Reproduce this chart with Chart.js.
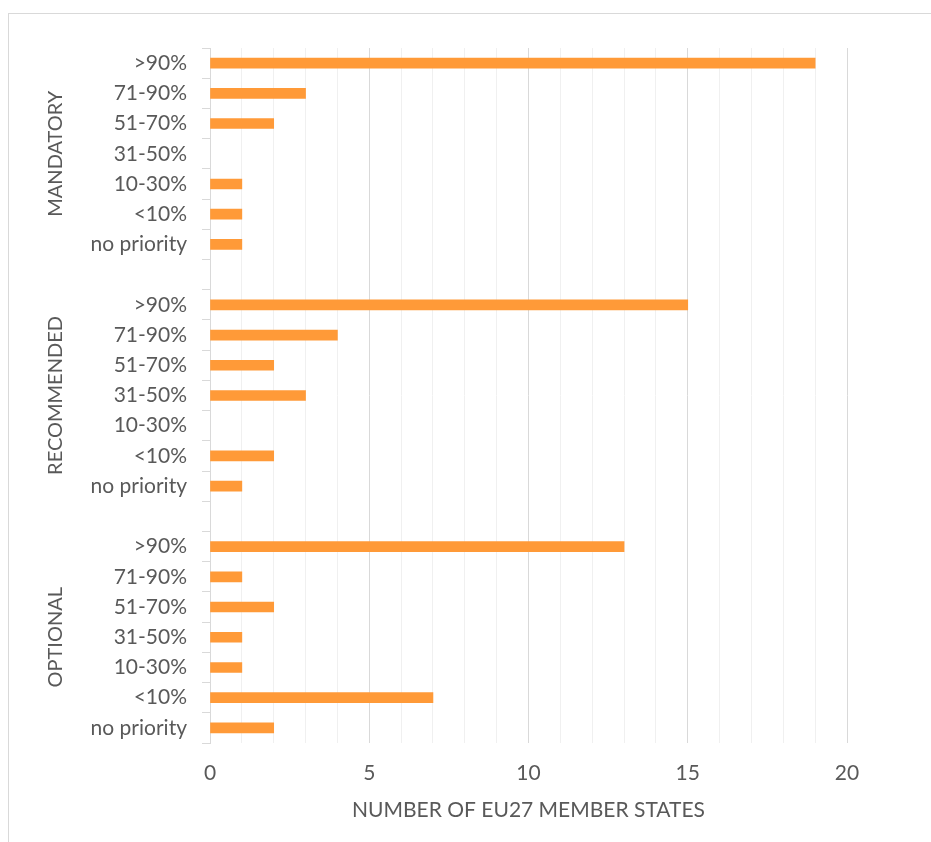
<!DOCTYPE html>
<html>
<head>
<meta charset="utf-8">
<script src="https://cdn.jsdelivr.net/npm/chart.js@4/dist/chart.umd.min.js"></script>
<style>
  html, body { margin: 0; padding: 0; background: #fff; }
  #wrap { position: relative; width: 931px; height: 842px; }
</style>
</head>
<body>
<div id="wrap"><canvas id="chart" width="931" height="842"></canvas></div>
<script>
// ---- data ----
const groups = ['MANDATORY', 'RECOMMENDED', 'OPTIONAL'];
const levels = ['>90%', '71-90%', '51-70%', '31-50%', '10-30%', '<10%', 'no priority'];
const mandatory = [19, 3, 2, 0, 1, 1, 1];
const recommended = [15, 4, 2, 3, 0, 2, 1];
const optional = [13, 1, 2, 1, 1, 7, 2];
const xTicks = [0, 5, 10, 15, 20];

const TEXT = '#595959';
const FONT = 'Lato, "Open Sans", sans-serif';

// build rows with an empty spacer row between groups
const groupValues = [mandatory, recommended, optional];
const labels = [];
const values = [];
const groupRanges = [];
groupValues.forEach((vals, g) => {
    if (g > 0) { labels.push(''); values.push(null); }
    const start = labels.length;
    // zero counts -> null so no hairline bar is drawn
    levels.forEach((lv, i) => { labels.push(lv); values.push(vals[i] === 0 ? null : vals[i]); });
    groupRanges.push([start, labels.length - 1]);
});

// outer frame + rotated group names
const extras = {
    id: 'extras',
    beforeDraw(chart) {
        const c = chart.ctx;
        c.save();
        c.strokeStyle = '#D9D9D9';
        c.lineWidth = 1;
        c.strokeRect(8.5, 13.5, 940, 850);
        c.restore();
    },
    afterDraw(chart) {
        const c = chart.ctx;
        const y = chart.scales.y;
        c.save();
        c.fillStyle = TEXT;
        c.font = '20px ' + FONT;
        c.textAlign = 'center';
        c.textBaseline = 'middle';
        groups.forEach((name, g) => {
            const [a, b] = groupRanges[g];
            const cy = (y.getPixelForValue(a) + y.getPixelForValue(b)) / 2;
            c.save();
            c.translate(56, cy);
            c.rotate(-Math.PI / 2);
            c.fillText(name, 0, 0);
            c.restore();
        });
        c.restore();
    }
};

new Chart(document.getElementById('chart'), {
    type: 'bar',
    data: {
        labels,
        datasets: [{
            data: values,
            backgroundColor: '#FF9A38',
            borderWidth: 0,
            barThickness: 10
        }]
    },
    options: {
        indexAxis: 'y',
        responsive: false,
        animation: false,
        layout: { padding: { left: 0, right: 84, top: 48, bottom: 0 } },
        plugins: { legend: { display: false }, tooltip: { enabled: false } },
        scales: {
            x: {
                min: 0,
                max: 20,
                afterFit: s => { s.height = 99; },
                afterBuildTicks: s => {
                    s.ticks = [];
                    for (let v = 0; v <= 20; v++) s.ticks.push({ value: v });
                },
                ticks: {
                    autoSkip: false,
                    maxRotation: 0,
                    padding: 18,
                    color: TEXT,
                    font: { family: FONT, size: 21 },
                    callback: v => xTicks.includes(v) ? String(v) : ''
                },
                grid: {
                    drawTicks: false,
                    lineWidth: 1,
                    color: ctx => (ctx.tick && ctx.tick.value % 5 === 0) ? '#D9D9D9' : '#F0F0F0'
                },
                border: { display: false },
                title: {
                    display: true,
                    text: 'NUMBER OF EU27 MEMBER STATES',
                    color: TEXT,
                    font: { family: FONT, size: 21 },
                    padding: { top: 0, bottom: 19 }
                }
            },
            y: {
                afterFit: s => { s.width = 210; },
                ticks: {
                    autoSkip: false,
                    padding: 15,
                    color: TEXT,
                    font: { family: FONT, size: 21 }
                },
                grid: {
                    drawOnChartArea: false,
                    drawTicks: true,
                    tickLength: 8,
                    color: '#D9D9D9'
                },
                border: { display: true, color: '#D9D9D9' }
            }
        }
    },
    plugins: [extras]
});
</script>
</body>
</html>
